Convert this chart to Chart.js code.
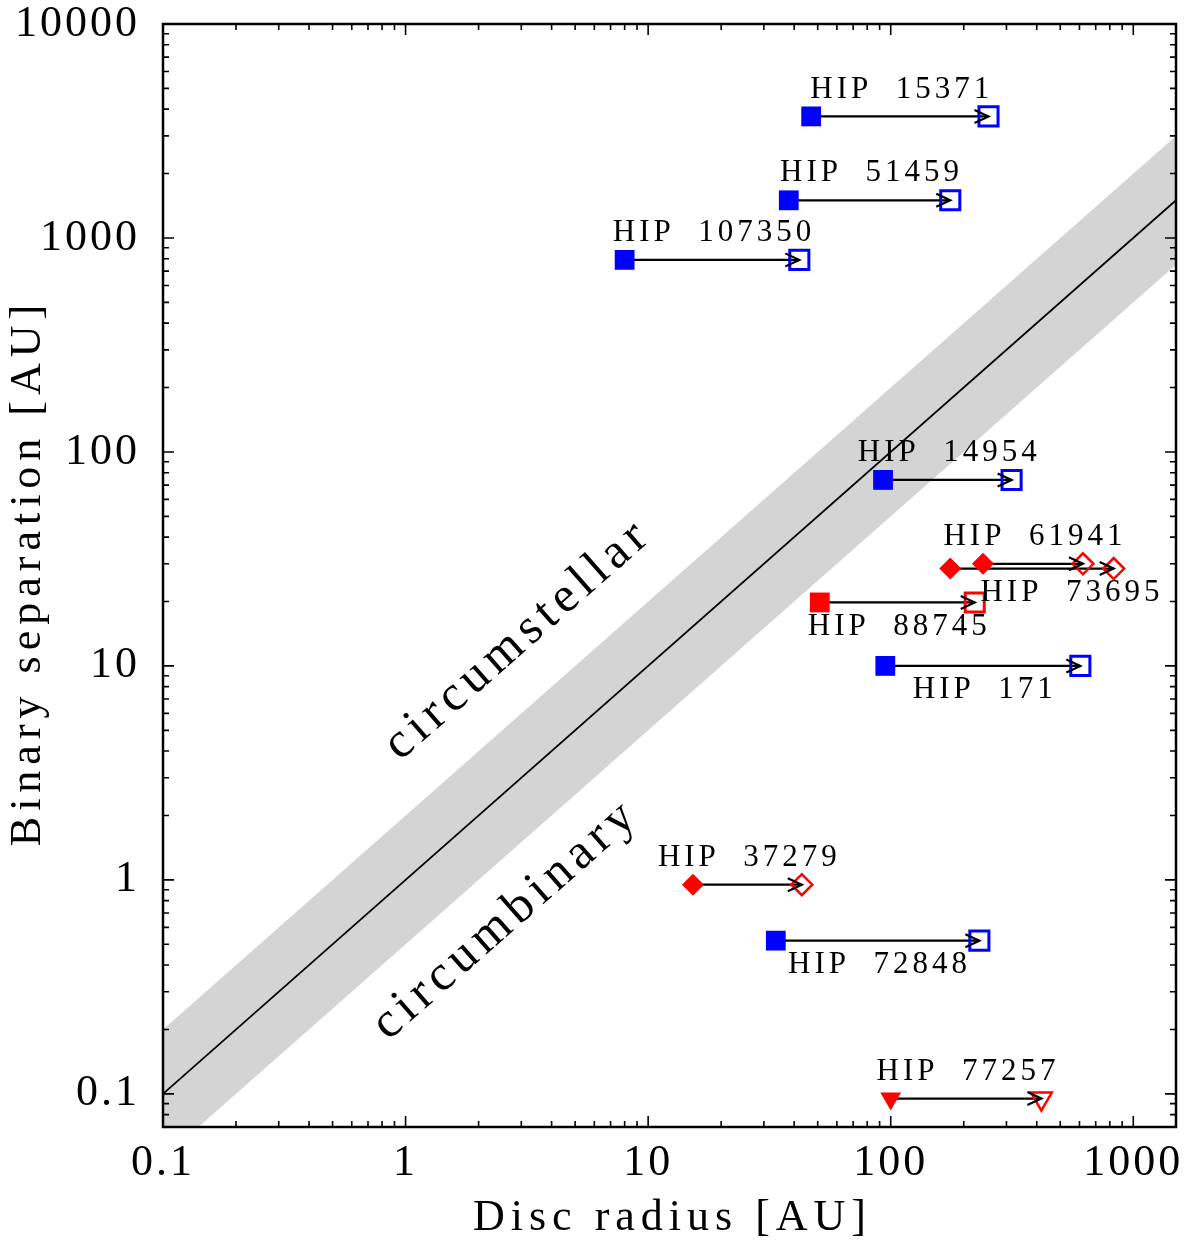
<!DOCTYPE html>
<html>
<head>
<meta charset="utf-8">
<script src="https://cdn.jsdelivr.net/npm/chart.js@4/dist/chart.umd.min.js"></script>
<style>
  body { margin: 0; background: #fff; }
</style>
</head>
<body>
<canvas id="chart" width="1200" height="1250"></canvas>
<script>
// binary systems, values (AU)
const names = ['HIP 15371', 'HIP 51459', 'HIP 107350', 'HIP 14954', 'HIP 61941', 'HIP 73695',
               'HIP 88745', 'HIP 171', 'HIP 37279', 'HIP 72848', 'HIP 77257'];
const separation = [3700, 1500, 790, 74, 30, 28.5, 19.8, 10, 0.95, 0.52, 0.095];
const discFrom = [47, 38, 8, 93, 240, 176, 51, 95, 15.3, 33.6, 100];
const discTo = [253, 176, 42, 315, 620, 830, 222, 605, 43, 232, 418];
const colours = ['blue', 'blue', 'blue', 'blue', 'red', 'red', 'red', 'blue', 'red', 'blue', 'red'];
const shapes = ['square', 'square', 'square', 'square', 'diamond', 'diamond', 'square', 'square', 'diamond', 'square', 'triangle'];

// stability band a/2 < R < 2a and the line R = a
const bandX = [0.05, 3000];
const bandHigh = [0.1, 6000];
const bandLow = [0.025, 1500];
const equalY = [0.05, 3000];

const xMajor = [0.1, 1, 10, 100, 1000];
const yMajor = [0.1, 1, 10, 100, 1000, 10000];

const regionNames = ['circumstellar', 'circumbinary'];
const regionX = [2.86, 2.55];
const regionY = [13, 0.64];

const serif = '"Liberation Serif"';
const namesBelow = ['HIP 73695', 'HIP 88745', 'HIP 171', 'HIP 72848'];

const styleOf = s => s === 'square' ? 'rect' : s === 'diamond' ? 'rectRot' : 'triangle';
const pts = xs => xs.map((v, i) => ({x: v, y: separation[i]}));

const datasets = [
  {
    data: bandX.map((v, i) => ({x: v, y: bandHigh[i]})),
    showLine: true, borderWidth: 0, borderColor: 'rgba(0,0,0,0)', pointRadius: 0, fill: false, order: 5
  },
  {
    data: bandX.map((v, i) => ({x: v, y: bandLow[i]})),
    showLine: true, borderWidth: 0, borderColor: 'rgba(0,0,0,0)', pointRadius: 0,
    fill: '-1', backgroundColor: '#d4d4d4', order: 5
  },
  {
    data: bandX.map((v, i) => ({x: v, y: equalY[i]})),
    showLine: true, borderWidth: 1.8, borderColor: '#000', pointRadius: 0, order: 4
  }
];

names.forEach((n, i) => {
  datasets.push({
    data: [{x: discFrom[i], y: separation[i]}, {x: discTo[i], y: separation[i]}],
    showLine: true, borderWidth: 2.2, borderColor: '#000', pointRadius: 0, order: 3
  });
});

// after the merger / open symbols
datasets.push({
  data: pts(discTo),
  pointStyle: shapes.map(styleOf),
  rotation: shapes.map(s => s === 'triangle' ? 180 : 0),
  pointRadius: shapes.map(s => s === 'square' ? 13.5 : s === 'diamond' ? 10.5 : 12),
  pointBorderWidth: shapes.map(s => s === 'square' ? 3 : 2.5),
  pointBorderColor: colours,
  pointBackgroundColor: 'rgba(0,0,0,0)',
  order: 1
});

// present day / filled symbols
datasets.push({
  data: pts(discFrom),
  pointStyle: shapes.map(styleOf),
  rotation: shapes.map(s => s === 'triangle' ? 180 : 0),
  pointRadius: shapes.map(s => s === 'square' ? 14 : s === 'diamond' ? 11 : 12),
  pointBorderWidth: 0,
  pointBorderColor: colours,
  pointBackgroundColor: colours,
  order: 0
});

const frameTicks = {
  id: 'frameTicks',
  beforeDraw(chart) {
    chart.ctx.letterSpacing = '3px';
  },
  afterDatasetsDraw(chart) {
    const {ctx, chartArea: a, scales: {x, y}} = chart;
    ctx.save();
    ctx.strokeStyle = '#000';
    ctx.lineWidth = 1.6;
    ctx.beginPath();
    for (let k = -2; k <= 4; k++) {
      for (let m = 1; m <= 9; m++) {
        const v = m * Math.pow(10, k);
        const len = m === 1 ? 11 : 6;
        if (v >= x.min && v <= x.max) {
          const px = x.getPixelForValue(v);
          ctx.moveTo(px, a.bottom); ctx.lineTo(px, a.bottom - len);
          ctx.moveTo(px, a.top); ctx.lineTo(px, a.top + len);
        }
        if (v >= y.min && v <= y.max) {
          const py = y.getPixelForValue(v);
          ctx.moveTo(a.left, py); ctx.lineTo(a.left + len, py);
          ctx.moveTo(a.right, py); ctx.lineTo(a.right - len, py);
        }
      }
    }
    ctx.stroke();
    ctx.lineWidth = 2.5;
    ctx.strokeRect(a.left, a.top, a.right - a.left, a.bottom - a.top);
    ctx.restore();
  }
};

const annotate = {
  id: 'annotate',
  afterDatasetsDraw(chart) {
    const {ctx, chartArea: a, scales: {x, y}} = chart;
    ctx.save();
    ctx.strokeStyle = '#000';
    ctx.fillStyle = '#000';
    ctx.lineWidth = 2.2;
    // arrow heads
    names.forEach((n, i) => {
      const tx = x.getPixelForValue(discTo[i]);
      const ty = y.getPixelForValue(separation[i]);
      ctx.beginPath();
      ctx.moveTo(tx - 14, ty - 6.5);
      ctx.lineTo(tx, ty);
      ctx.lineTo(tx - 14, ty + 6.5);
      ctx.stroke();
    });
    // system names
    ctx.font = '31px ' + serif;
    ctx.letterSpacing = '4px';
    ctx.textAlign = 'center';
    ctx.textBaseline = 'middle';
    names.forEach((n, i) => {
      const mx = (x.getPixelForValue(discFrom[i]) + x.getPixelForValue(discTo[i])) / 2;
      const py = y.getPixelForValue(separation[i]);
      const below = namesBelow.includes(n);
      const dx = n === 'HIP 73695' ? 38 : 0;
      ctx.fillText(n.replace(' ', '  '), mx + dx + 2, py + (below ? 24 : -27));
    });
    // region names along the band
    const ang = Math.atan2(y.getPixelForValue(10) - y.getPixelForValue(1),
                           x.getPixelForValue(10) - x.getPixelForValue(1));
    ctx.font = '50px ' + serif;
    ctx.letterSpacing = '6px';
    regionNames.forEach((t, i) => {
      ctx.save();
      ctx.translate(x.getPixelForValue(regionX[i]), y.getPixelForValue(regionY[i]));
      ctx.rotate(ang);
      ctx.fillText(t, 3, 0);
      ctx.restore();
    });
    // axis titles
    ctx.font = '44px ' + serif;
    ctx.letterSpacing = '6px';
    ctx.fillText('Disc radius [AU]', (a.left + a.right) / 2 + 3, 1218);
    ctx.save();
    ctx.translate(28, (a.top + a.bottom) / 2);
    ctx.rotate(-Math.PI / 2);
    ctx.fillText('Binary separation [AU]', 3, 0);
    ctx.restore();
    ctx.restore();
  }
};

new Chart(document.getElementById('chart'), {
  type: 'scatter',
  data: { datasets: datasets },
  options: {
    responsive: false,
    animation: false,
    layout: { padding: { top: 24, right: 24, left: 0, bottom: 0 } },
    plugins: { legend: { display: false }, tooltip: { enabled: false } },
    scales: {
      x: {
        type: 'logarithmic',
        min: 0.1,
        max: 1500,
        grid: { display: false, drawTicks: false },
        border: { display: false },
        afterBuildTicks: s => { s.ticks = xMajor.map(v => ({value: v})); },
        afterFit: s => { s.height = 123; s.paddingLeft = 0; s.paddingRight = 0; },
        ticks: {
          autoSkip: false, maxRotation: 0, padding: 10, color: '#000',
          font: { family: serif, size: 44 },
          callback: v => String(v)
        }
      },
      y: {
        type: 'logarithmic',
        min: 0.07,
        max: 10000,
        grid: { display: false, drawTicks: false },
        border: { display: false },
        afterBuildTicks: s => { s.ticks = yMajor.map(v => ({value: v})); },
        afterFit: s => { s.width = 163; s.paddingTop = 0; s.paddingBottom = 0; },
        ticks: {
          autoSkip: false, padding: 23, color: '#000',
          font: { family: serif, size: 44 },
          callback: v => String(v)
        }
      }
    }
  },
  plugins: [frameTicks, annotate]
});
</script>
</body>
</html>
